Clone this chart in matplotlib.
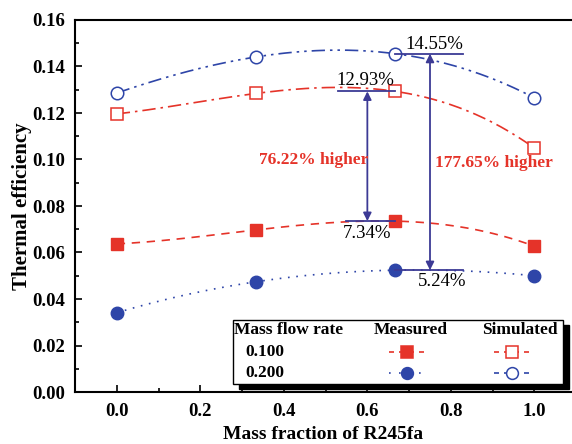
import matplotlib.pyplot as plt
import numpy as np
from matplotlib.lines import Line2D
from matplotlib.patches import Rectangle

plt.rcParams['font.family'] = ['Liberation Serif', 'DejaVu Serif']

# Data
mass_fraction = [0.0, 0.333, 0.667, 1.0]
measured_100 = [0.0637, 0.0697, 0.0735, 0.0627]
simulated_100 = [0.1196, 0.1284, 0.1293, 0.1049]
measured_200 = [0.0341, 0.0474, 0.0524, 0.0500]
simulated_200 = [0.1286, 0.1441, 0.1455, 0.1265]

red = '#E53329'
blue = '#2E45A8'
arrow_col = '#3C3A95'

fig = plt.figure(figsize=(5.72, 4.44), dpi=100)
ax = fig.add_axes([75 / 572, 52 / 444, 497 / 572, 372 / 444])

xs = np.linspace(0, 1, 200)


def fit_line(y, color, ls):
    c = np.polyfit(mass_fraction, y, 3)
    ax.plot(xs, np.polyval(c, xs), color=color, ls=ls, lw=1.2)


fit_line(measured_100, red, (0, (5, 4)))
fit_line(simulated_100, red, (0, (8, 3, 1.5, 3)))
fit_line(measured_200, blue, (0, (1, 4)))
fit_line(simulated_200, blue, (0, (8, 3, 1.5, 3, 1.5, 3)))

ax.plot(mass_fraction, measured_100, 's', color=red, ms=8.5, ls='none')
ax.plot(mass_fraction, simulated_100, 's', mfc='white', mec=red, mew=1.1, ms=8.5, ls='none')
ax.plot(mass_fraction, measured_200, 'o', color=blue, ms=9, ls='none')
ax.plot(mass_fraction, simulated_200, 'o', mfc='white', mec=blue, mew=1.1, ms=9, ls='none')

# Comparison arrows
ax.plot([0.53, 0.667], [simulated_100[2]] * 2, color=arrow_col, lw=1.3)
ax.plot([0.55, 0.667], [measured_100[2]] * 2, color=arrow_col, lw=1.3)
ax.annotate('', xy=(0.6, simulated_100[2]), xytext=(0.6, measured_100[2]),
            arrowprops=dict(arrowstyle='<|-|>', color=arrow_col, lw=1.3,
                            shrinkA=0, shrinkB=0, mutation_scale=12))
ax.plot([0.667, 0.83], [simulated_200[2]] * 2, color=arrow_col, lw=1.3)
ax.plot([0.667, 0.83], [measured_200[2]] * 2, color=arrow_col, lw=1.3)
ax.annotate('', xy=(0.75, simulated_200[2]), xytext=(0.75, measured_200[2]),
            arrowprops=dict(arrowstyle='<|-|>', color=arrow_col, lw=1.3,
                            shrinkA=0, shrinkB=0, mutation_scale=12))

ax.text(0.595, simulated_100[2] + 0.0010, '12.93%', ha='center', va='bottom', fontsize=13.5)
ax.text(0.6, measured_100[2] - 0.0015, '7.34%', ha='center', va='top', fontsize=13.5)
ax.text(0.76, simulated_200[2] + 0.0003, '14.55%', ha='center', va='bottom', fontsize=13.5)
ax.text(0.78, measured_200[2] - 0.0013, '5.24%', ha='center', va='top', fontsize=13.5)
ax.text(0.472, 0.0998, '76.22% higher', ha='center', va='center', fontsize=12.5,
        fontweight='bold', color=red)
ax.text(0.902, 0.0985, '177.65% higher', ha='center', va='center', fontsize=12.5,
        fontweight='bold', color=red)

# Table-style legend
bx0, bx1, by0, by1 = 0.318, 0.982, 0.021, 0.194
ax.add_patch(Rectangle((bx0 + 0.011, by0 - 0.014), bx1 - bx0, by1 - by0,
                       transform=ax.transAxes, color='black', zorder=5))
ax.add_patch(Rectangle((bx0, by0), bx1 - bx0, by1 - by0, transform=ax.transAxes,
                       facecolor='white', edgecolor='black', lw=1, zorder=6))
kw = dict(transform=ax.transAxes, fontsize=12.5, fontweight='bold', va='center', zorder=7)
ax.text(0.32, 0.166, 'Mass flow rate', ha='left', **kw)
ax.text(0.676, 0.166, 'Measured', ha='center', **kw)
ax.text(0.895, 0.166, 'Simulated', ha='center', **kw)
ax.text(0.382, 0.108, '0.100', ha='center', **kw)
ax.text(0.382, 0.051, '0.200', ha='center', **kw)

samples = [
    (0.668, 0.108, red, 's', red, (0, (3, 3))),
    (0.879, 0.108, red, 's', 'white', (0, (3, 3))),
    (0.668, 0.051, blue, 'o', blue, (0, (1, 5))),
    (0.879, 0.051, blue, 'o', 'white', (0, (3, 3))),
]
for cx, cy, col, mk, fc, ls in samples:
    ax.add_line(Line2D([cx - 0.036, cx + 0.036], [cy, cy], transform=ax.transAxes,
                       color=col, ls=ls, lw=1.2, zorder=7))
    ax.add_line(Line2D([cx], [cy], transform=ax.transAxes, marker=mk, ms=8.5,
                       mfc=fc, mec=col, mew=1.1, color=col, zorder=8))

ax.set_xlim(-0.1, 1.09)
ax.set_ylim(0, 0.16)
ax.set_xticks(np.arange(0, 1.01, 0.2))
ax.set_xticks(np.arange(-0.1, 1.09, 0.1), minor=True)
ax.set_yticks(np.arange(0, 0.161, 0.02))
ax.set_yticks(np.arange(0, 0.161, 0.01), minor=True)
ax.xaxis.set_major_formatter(plt.FormatStrFormatter('%.1f'))
ax.yaxis.set_major_formatter(plt.FormatStrFormatter('%.2f'))
ax.tick_params(which='both', direction='in', width=1.2, labelsize=13.5)
ax.tick_params(which='major', length=5)
ax.tick_params(which='minor', length=3)
ax.tick_params(axis='y', pad=7)
ax.tick_params(axis='x', pad=8)
for lbl in ax.get_xticklabels() + ax.get_yticklabels():
    lbl.set_fontweight('bold')
ax.spines['right'].set_visible(False)
for s in ['left', 'top', 'bottom']:
    ax.spines[s].set_linewidth(1.5)

ax.set_xlabel('Mass fraction of R245fa', fontsize=14, fontweight='bold', labelpad=4)
ax.set_ylabel('Thermal efficiency', fontsize=15, fontweight='bold', labelpad=0)

fig.savefig('out.png', dpi=100)
